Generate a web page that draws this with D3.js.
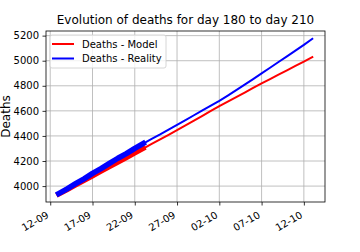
<!DOCTYPE html>
<html>
<head>
<meta charset="utf-8">
<script src="https://d3js.org/d3.v7.min.js"></script>
<style>
    body { margin: 0; background: #fff; }
    svg { display: block; font-family: "DejaVu Sans", sans-serif; }
</style>
</head>
<body>
<div id="chart"></div>
<script>
(function () {
    "use strict";

    // one point per day, day 180 to day 210
    var days = [
        "2020-09-13", "2020-09-14", "2020-09-15", "2020-09-16", "2020-09-17", "2020-09-18",
        "2020-09-19", "2020-09-20", "2020-09-21", "2020-09-22", "2020-09-23", "2020-09-24",
        "2020-09-25", "2020-09-26", "2020-09-27", "2020-09-28", "2020-09-29", "2020-09-30",
        "2020-10-01", "2020-10-02", "2020-10-03", "2020-10-04", "2020-10-05", "2020-10-06",
        "2020-10-07", "2020-10-08", "2020-10-09", "2020-10-10", "2020-10-11", "2020-10-12",
        "2020-10-13"
    ];

    var modelDeaths = [
        3935, 3971, 4008, 4044, 4080, 4117, 4153, 4190, 4226, 4263, 4299,
        4336, 4372, 4409, 4446, 4484, 4522, 4560, 4599, 4638,
        4674, 4710, 4746, 4783, 4819, 4854, 4889, 4923, 4958, 4992, 5028
    ];

    var realDeaths = [
        3940, 3978, 4019, 4058, 4101, 4139, 4181, 4222, 4259, 4301, 4339,
        4376, 4412, 4450, 4488, 4526, 4565, 4603, 4641, 4680,
        4722, 4765, 4809, 4853, 4899, 4944, 4990, 5035, 5081, 5126, 5175
    ];

    // first days drawn with a thick stroke
    var fitDays = 11;

    var xTickDays = ["2020-09-12", "2020-09-17", "2020-09-22", "2020-09-27", "2020-10-02", "2020-10-07", "2020-10-12"];
    var yTicks = [4000, 4200, 4400, 4600, 4800, 5000, 5200];

    var seriesNames = ["Deaths - Model", "Deaths - Reality"];
    var seriesColors = ["#ff0000", "#0000ff"];

    var W = 360, H = 252;
    var left = 46, right = 325, top = 31, bottom = 202;

    var parse = d3.utcParse("%Y-%m-%d");
    var fmt = d3.utcFormat("%d-%m");
    var dayDates = days.map(parse);

    var svg = d3.select("#chart").append("svg")
        .attr("width", W)
        .attr("height", H);

    // 5% padding on both axes like matplotlib does
    var x0 = dayDates[0], x1 = dayDates[dayDates.length - 1];
    var xPad = (x1 - x0) * 0.05;
    var x = d3.scaleUtc()
        .domain([new Date(+x0 - xPad), new Date(+x1 + xPad)])
        .range([left, right]);

    var all = modelDeaths.concat(realDeaths);
    var yMin = d3.min(all), yMax = d3.max(all);
    var yPad = (yMax - yMin) * 0.05;
    var y = d3.scaleLinear()
        .domain([yMin - yPad, yMax + yPad])
        .range([bottom, top]);

    // grid
    var grid = svg.append("g").attr("stroke", "#b0b0b0").attr("stroke-width", 0.8);
    grid.selectAll("line.gx")
        .data(xTickDays.map(parse))
        .enter().append("line")
        .attr("x1", function (d) { return x(d); })
        .attr("x2", function (d) { return x(d); })
        .attr("y1", top)
        .attr("y2", bottom);
    grid.selectAll("line.gy")
        .data(yTicks)
        .enter().append("line")
        .attr("x1", left)
        .attr("x2", right)
        .attr("y1", function (d) { return y(d); })
        .attr("y2", function (d) { return y(d); });

    // lines (square caps, like matplotlib's projecting cap)
    var line = d3.line()
        .x(function (d, i) { return x(dayDates[i]); })
        .y(function (d) { return y(d); });

    function drawLine(values, color, width) {
        plot.append("path").datum(values)
            .attr("d", line).attr("fill", "none")
            .attr("stroke", color).attr("stroke-width", width)
            .attr("stroke-linecap", "square")
            .attr("stroke-linejoin", "round");
    }

    var plot = svg.append("g");
    drawLine(modelDeaths, seriesColors[0], 2);
    drawLine(realDeaths, seriesColors[1], 2);
    drawLine(modelDeaths.slice(0, fitDays), seriesColors[0], 5);
    drawLine(realDeaths.slice(0, fitDays), seriesColors[1], 5.5);

    // axes
    var xAxis = d3.axisBottom(x)
        .tickValues(xTickDays.map(parse))
        .tickSize(3.5)
        .tickPadding(3.5)
        .tickFormat(fmt);
    var gx = svg.append("g")
        .attr("transform", "translate(0," + bottom + ")")
        .call(xAxis);
    gx.select(".domain").remove();
    gx.selectAll(".tick line").attr("stroke", "#000").attr("stroke-width", 0.8);
    gx.selectAll(".tick text")
        .attr("font-size", 10)
        .attr("font-family", "DejaVu Sans")
        .attr("fill", "#000")
        .attr("text-anchor", "end")
        .attr("dy", null)
        .attr("y", null)
        .attr("transform", "translate(-1.2,15) rotate(-30)");

    var yAxis = d3.axisLeft(y)
        .tickValues(yTicks)
        .tickSize(3.5)
        .tickPadding(3.5)
        .tickFormat(d3.format("d"));
    var gy = svg.append("g")
        .attr("transform", "translate(" + left + ",0)")
        .call(yAxis);
    gy.select(".domain").remove();
    gy.selectAll(".tick line").attr("stroke", "#000").attr("stroke-width", 0.8);
    gy.selectAll(".tick text")
        .attr("font-size", 10)
        .attr("font-family", "DejaVu Sans")
        .attr("fill", "#000");

    // frame
    svg.append("rect")
        .attr("x", left).attr("y", top)
        .attr("width", right - left).attr("height", bottom - top)
        .attr("fill", "none").attr("stroke", "#000").attr("stroke-width", 0.8);

    // title and y label
    svg.append("text")
        .attr("x", (left + right) / 2)
        .attr("y", 24)
        .attr("text-anchor", "middle")
        .attr("font-size", 12)
        .text("Evolution of deaths for day 180 to day 210");

    svg.append("text")
        .attr("transform", "translate(9.5," + ((top + bottom) / 2) + ") rotate(-90)")
        .attr("text-anchor", "middle")
        .attr("font-size", 12)
        .text("Deaths");

    // legend
    var legend = svg.append("g");
    legend.append("rect")
        .attr("x", 50).attr("y", 35)
        .attr("width", 116).attr("height", 33)
        .attr("rx", 2)
        .attr("fill", "#fff").attr("fill-opacity", 0.8)
        .attr("stroke", "#cccccc").attr("stroke-width", 0.8);
    var items = legend.selectAll("g.item")
        .data(seriesNames)
        .enter().append("g")
        .attr("transform", function (d, i) { return "translate(52," + (44 + i * 14.5) + ")"; });
    items.append("line")
        .attr("x1", 0).attr("x2", 22)
        .attr("stroke", function (d, i) { return seriesColors[i]; })
        .attr("stroke-width", 2);
    items.append("text")
        .attr("x", 30).attr("y", 3.6)
        .attr("font-size", 10)
        .text(function (d) { return d; });

})();
</script>
</body>
</html>
